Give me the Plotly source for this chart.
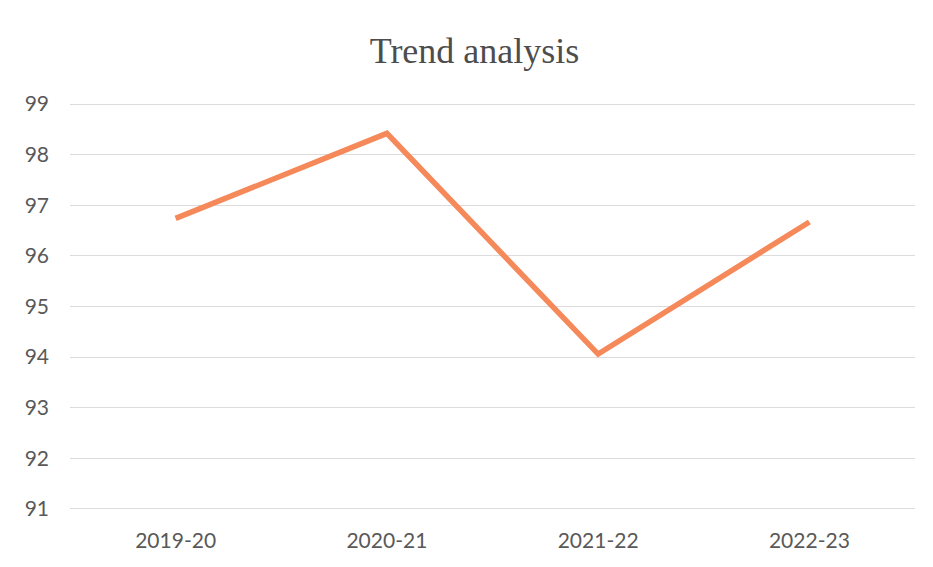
import plotly.graph_objects as go

years = ["2019-20", "2020-21", "2021-22", "2022-23"]
values = [96.74, 98.42, 94.06, 96.67]
y_ticks = [91, 92, 93, 94, 95, 96, 97, 98, 99]

fig = go.Figure()
fig.add_trace(go.Scatter(
    x=years, y=values, mode="lines",
    line=dict(color="#F5895A", width=5.5),
    showlegend=False,
))

fig.update_layout(
    width=933, height=567,
    paper_bgcolor="white", plot_bgcolor="white",
    margin=dict(l=62, r=26, t=95, b=65),
    title=dict(text="Trend analysis", x=0.5, xanchor="center",
               y=1 - 42 / 567, yref="container", yanchor="middle",
               font=dict(family="Liberation Serif", size=36, color="#4d4d4d")),
    font=dict(family="Lato", size=21, color="#595959"),
)
fig.update_xaxes(range=[-0.5, 3.5], showgrid=False, showline=False, zeroline=False,
                 ticks="", ticklabelstandoff=16, automargin=False,
                 tickfont=dict(family="Lato", size=21, color="#595959"))
fig.update_yaxes(range=[90.98, 99.02], tickvals=y_ticks, showgrid=True,
                 gridcolor="#dcdcdc", gridwidth=1, zeroline=False,
                 showline=False, ticks="", ticklabelstandoff=20, automargin=False,
                 tickfont=dict(family="Lato", size=21, color="#595959"))

fig.write_html("out.html")
